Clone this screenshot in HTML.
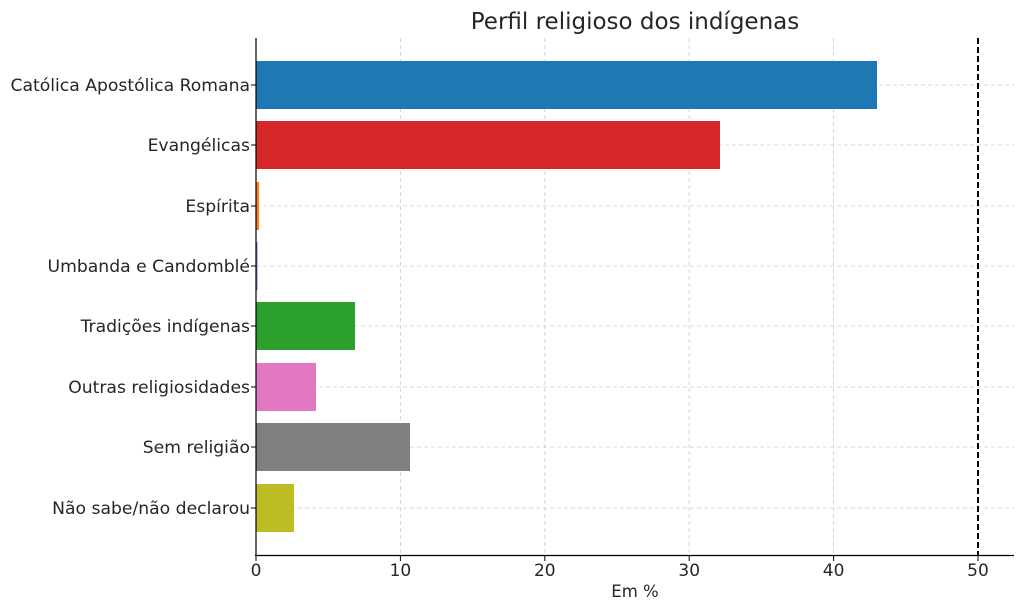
<!DOCTYPE html>
<html><head><meta charset="utf-8"><style>body{margin:0;background:#fff}svg{display:block}text{font-family:"DejaVu Sans",sans-serif;fill:#262626}</style></head><body>
<svg width="1024" height="611" xmlns="http://www.w3.org/2000/svg">
<text x="635" y="29" font-size="23" text-anchor="middle" fill="#333">Perfil religioso dos indígenas</text>
<g stroke="#cccccc" stroke-width="0.8" stroke-dasharray="4,3">
<line x1="400.4" y1="38" x2="400.4" y2="555"/><line x1="544.8" y1="38" x2="544.8" y2="555"/><line x1="689.2" y1="38" x2="689.2" y2="555"/><line x1="833.6" y1="38" x2="833.6" y2="555"/>
<line x1="256" y1="85" x2="1014" y2="85"/><line x1="256" y1="145" x2="1014" y2="145"/><line x1="256" y1="206" x2="1014" y2="206"/><line x1="256" y1="266" x2="1014" y2="266"/><line x1="256" y1="326" x2="1014" y2="326"/><line x1="256" y1="387" x2="1014" y2="387"/><line x1="256" y1="447" x2="1014" y2="447"/><line x1="256" y1="508" x2="1014" y2="508"/>
</g>
<rect x="256" y="61" width="621" height="48" fill="#1f77b4"/>
<rect x="256" y="121" width="464" height="48" fill="#d62728"/>
<rect x="256" y="182" width="3" height="48" fill="#ff7f0e"/>
<rect x="256" y="242" width="1.5" height="48" fill="#9467bd"/>
<rect x="256" y="302" width="99" height="48" fill="#2ca02c"/>
<rect x="256" y="363" width="60" height="48" fill="#e377c2"/>
<rect x="256" y="423" width="154" height="48" fill="#7f7f7f"/>
<rect x="256" y="484" width="38" height="48" fill="#bcbd22"/>
<line x1="978" y1="38" x2="978" y2="555" stroke="#000" stroke-width="2" stroke-dasharray="6,3"/>
<line x1="256" y1="38" x2="256" y2="556" stroke="#000" stroke-width="1.2"/>
<line x1="255" y1="555.5" x2="1014" y2="555.5" stroke="#000" stroke-width="1.2"/>
<g stroke="#000"><line x1="256" y1="556" x2="256" y2="561"/><line x1="400.4" y1="556" x2="400.4" y2="561"/><line x1="544.8" y1="556" x2="544.8" y2="561"/><line x1="689.2" y1="556" x2="689.2" y2="561"/><line x1="833.6" y1="556" x2="833.6" y2="561"/><line x1="978" y1="556" x2="978" y2="561"/>
<line x1="251" y1="85" x2="256" y2="85"/><line x1="251" y1="145" x2="256" y2="145"/><line x1="251" y1="206" x2="256" y2="206"/><line x1="251" y1="266" x2="256" y2="266"/><line x1="251" y1="326" x2="256" y2="326"/><line x1="251" y1="387" x2="256" y2="387"/><line x1="251" y1="447" x2="256" y2="447"/><line x1="251" y1="508" x2="256" y2="508"/></g>
<g font-size="17" text-anchor="middle"><text x="256" y="576">0</text><text x="400.4" y="576">10</text><text x="544.8" y="576">20</text><text x="689.2" y="576">30</text><text x="833.6" y="576">40</text><text x="978" y="576">50</text></g>
<text x="635" y="597" font-size="16.5" text-anchor="middle">Em %</text>
<g font-size="17.2" text-anchor="end"><text x="250" y="91">Católica Apostólica Romana</text><text x="250" y="151">Evangélicas</text><text x="250" y="212">Espírita</text><text x="250" y="272">Umbanda e Candomblé</text><text x="250" y="332">Tradições indígenas</text><text x="250" y="393">Outras religiosidades</text><text x="250" y="453">Sem religião</text><text x="250" y="514">Não sabe/não declarou</text></g>
</svg></body></html>
